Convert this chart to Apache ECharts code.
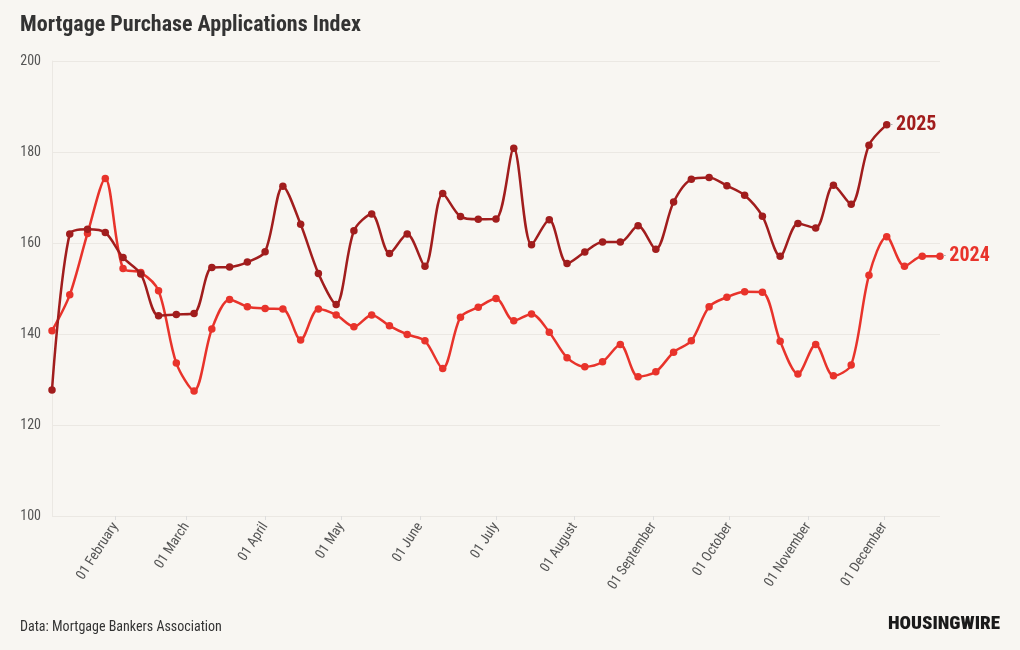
<!DOCTYPE html>
<html>
<head>
<meta charset="utf-8">
<script src="https://cdn.jsdelivr.net/npm/echarts@6/dist/echarts.min.js"></script>
<style>
html,body{margin:0;padding:0;background:#f8f6f2;}
#c{width:1020px;height:650px;}
</style>
</head>
<body>
<div id="c"></div>
<script>
// Weekly observations, both years aligned on a common calendar year
const startDate = '2025-01-07';
const monthNames = ['January','February','March','April','May','June','July','August','September','October','November','December'];
const yTicks = [100, 120, 140, 160, 180, 200];

const values2025 = [127.7,162.0,163.0,162.3,156.8,153.2,144.0,144.3,144.5,154.6,154.7,155.8,158.1,172.5,164.1,153.3,146.5,162.7,166.4,157.7,162.0,154.9,170.9,165.8,165.2,165.3,180.8,159.6,165.1,155.5,158.0,160.2,160.2,163.8,158.6,169.0,174.0,174.4,172.6,170.5,165.9,157.1,164.3,163.3,172.7,168.5,181.5,186.0];
const values2024 = [140.7,148.6,162.1,174.2,154.4,153.5,149.5,133.6,127.5,141.1,147.6,146.0,145.6,145.5,138.7,145.5,144.2,141.6,144.2,141.8,139.9,138.5,132.4,143.7,145.9,147.8,142.9,144.4,140.4,134.8,132.8,133.9,137.7,130.6,131.7,136.0,138.5,146.0,148.1,149.3,149.2,138.4,131.2,137.7,130.8,133.2,152.9,161.4,154.9,157.1,157.1];

const DAY = 86400000;
const t0 = Date.parse(startDate + 'T00:00:00Z');
function weekly(vals){ return vals.map((v,i)=>[t0 + i*7*DAY, v]); }
const monthTicks = [];
for (let m = 1; m < 12; m++) monthTicks.push(Date.UTC(2025, m, 1));

const FONT = "'Roboto Condensed','Liberation Sans Narrow','DejaVu Sans Condensed',Roboto,sans-serif";
const C25 = '#a11d1d', C24 = '#e8332b';

const chart = echarts.init(document.getElementById('c'), null, {renderer:'canvas'});
function endLabel(color){
  return {
    show:true, distance:3,
    formatter: p => '{d|-} {n|' + p.seriesName + '}',
    rich:{
      d:{color:'#aaaaaa', fontSize:12, fontFamily:FONT},
      n:{color:color, fontSize:20, fontWeight:'bold', fontFamily:FONT}
    }
  };
}
chart.setOption({
  backgroundColor:'#f8f6f2',
  animation:false,
  title:{
    text:'Mortgage Purchase Applications Index',
    left:15, top:9,
    textStyle:{fontFamily:FONT, fontSize:22, fontWeight:'bold', color:'#333333'}
  },
  grid:{left:52, right:80, top:61, bottom:134, containLabel:false},
  xAxis:{
    type:'value',
    min:t0, max:t0 + 350*DAY,
    axisLine:{show:false},
    axisTick:{show:true, customValues:monthTicks, length:4, lineStyle:{color:'#dddddd'}},
    splitLine:{show:false},
    axisLabel:{
      customValues:monthTicks,
      rotate:57, margin:8,
      color:'#555555', fontSize:14, fontFamily:FONT,
      formatter: v => '01 ' + monthNames[new Date(v).getUTCMonth()]
    }
  },
  yAxis:{
    type:'value', min:100, max:200, interval:20,
    axisLine:{show:true, lineStyle:{color:'#ebe8e3'}},
    axisTick:{show:false},
    splitLine:{lineStyle:{color:'#ebe8e3'}},
    axisLabel:{color:'#555555', fontSize:14, fontFamily:FONT, margin:11}
  },
  series:[
    {
      name:'2024', type:'line', data:weekly(values2024), smooth:0.3,
      symbol:'circle', symbolSize:7.5, showSymbol:true,
      lineStyle:{color:C24, width:2.5}, itemStyle:{color:C24},
      endLabel:endLabel(C24), z:2
    },
    {
      name:'2025', type:'line', data:weekly(values2025), smooth:0.3,
      symbol:'circle', symbolSize:7.5, showSymbol:true,
      lineStyle:{color:C25, width:2.5}, itemStyle:{color:C25},
      endLabel:endLabel(C25), z:3
    }
  ],
  graphic:[
    {type:'text', left:20, top:620, style:{text:'Data: Mortgage Bankers Association', fill:'#333333', font:"14px " + FONT}},
    {type:'text', right:20, top:615, style:{text:'HOUSINGWIRE', fill:'#1a1a1a', font:"900 19px " + FONT}}
  ]
});
</script>
</body>
</html>
